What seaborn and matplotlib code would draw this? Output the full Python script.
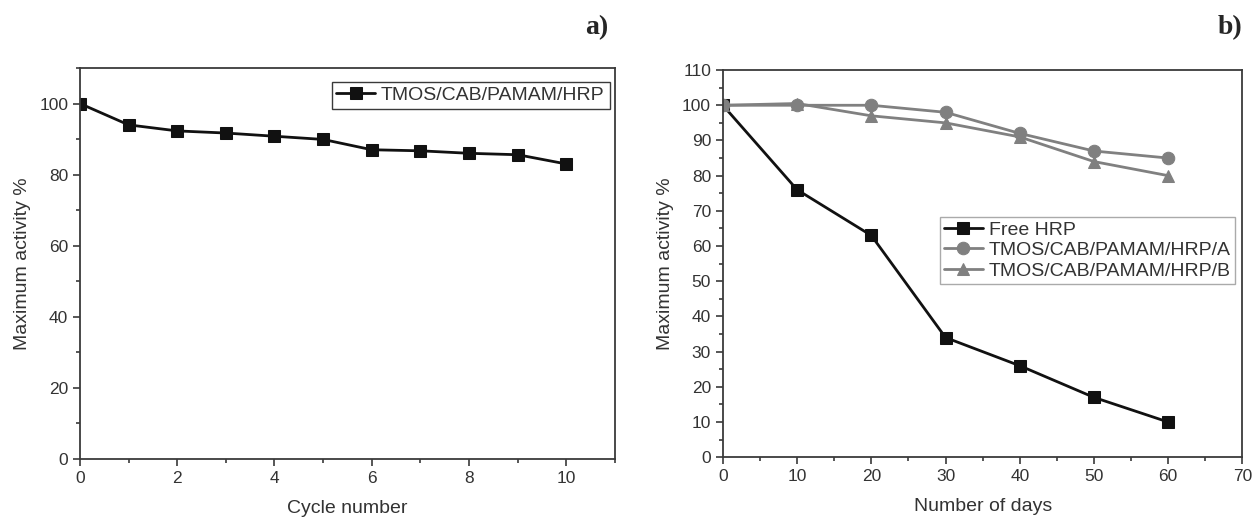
import matplotlib
matplotlib.use("Agg")
import matplotlib.pyplot as plt
import seaborn as sns
import pandas as pd
from matplotlib.ticker import MultipleLocator

# panel a) reusability
cycles = [0, 1, 2, 3, 4, 5, 6, 7, 8, 9, 10]
cycle_activity = [100, 94, 92.3, 91.7, 90.8, 89.9, 87, 86.7, 86, 85.6, 83]

# panel b) storage stability
days = [0, 10, 20, 30, 40, 50, 60]
free_hrp = [100, 76, 63, 34, 26, 17, 10]
hrp_a = [100, 100, 100, 98, 92, 87, 85]
hrp_b = [100, 100.5, 97, 95, 91, 84, 80]

sns.set_style("ticks")
plt.rcParams['font.family'] = ['Liberation Sans', 'DejaVu Sans']
axis_col = "#3a3a3a"
text_col = "#333333"
plt.rcParams.update({
    "axes.edgecolor": axis_col, "xtick.color": axis_col, "ytick.color": axis_col,
    "xtick.labelcolor": text_col, "ytick.labelcolor": text_col,
    "axes.labelcolor": text_col, "axes.linewidth": 1.3,
})

fig = plt.figure(figsize=(12.55, 5.19), dpi=100)
ax1 = fig.add_axes([0.0637, 0.1156, 0.4263, 0.7534])
ax2 = fig.add_axes([0.576, 0.119, 0.414, 0.746])

df1 = pd.DataFrame({"x": cycles, "y": cycle_activity})
sns.lineplot(data=df1, x="x", y="y", ax=ax1, color="#111111", lw=2, marker="s",
             markersize=9, markeredgecolor="#111111", label="TMOS/CAB/PAMAM/HRP")

df2 = pd.DataFrame({"x": days * 3, "y": free_hrp + hrp_a + hrp_b,
                    "s": ["Free HRP"] * 7 + ["TMOS/CAB/PAMAM/HRP/A"] * 7 + ["TMOS/CAB/PAMAM/HRP/B"] * 7})
styles = [("Free HRP", "s", "#111111"), ("TMOS/CAB/PAMAM/HRP/A", "o", "#808080"),
          ("TMOS/CAB/PAMAM/HRP/B", "^", "#808080")]
for name, mk, c in styles:
    sub = df2[df2["s"] == name]
    sns.lineplot(data=sub, x="x", y="y", ax=ax2, color=c, lw=2, marker=mk,
                 markersize=9, markeredgecolor=c, label=name)

for ax in (ax1, ax2):
    ax.tick_params(which="both", direction="out", top=False, right=False, labelsize=12.5)
    ax.tick_params(which="major", length=5, width=1.2)
    ax.tick_params(which="minor", length=3, width=1.2)
    ax.set_ylabel("Maximum activity %", fontsize=14, labelpad=6)

ax1.set_xlim(0, 11)
ax1.set_ylim(0, 110)
ax1.xaxis.set_major_locator(MultipleLocator(2))
ax1.xaxis.set_minor_locator(MultipleLocator(1))
ax1.yaxis.set_major_locator(MultipleLocator(20))
ax1.yaxis.set_minor_locator(MultipleLocator(10))
ax1.set_yticks([0, 20, 40, 60, 80, 100])
ax1.set_xlabel("Cycle number", fontsize=14, labelpad=10)

ax2.set_xlim(0, 70)
ax2.set_ylim(0, 110)
ax2.xaxis.set_major_locator(MultipleLocator(10))
ax2.xaxis.set_minor_locator(MultipleLocator(5))
ax2.yaxis.set_major_locator(MultipleLocator(10))
ax2.yaxis.set_minor_locator(MultipleLocator(5))
ax2.set_xlabel("Number of days", fontsize=14, labelpad=10)

leg1 = ax1.legend(loc="upper right", bbox_to_anchor=(0.99, 0.965), fontsize=14, fancybox=False,
                  edgecolor=axis_col, handlelength=2.0, handletextpad=0.3, borderpad=0.25,
                  borderaxespad=0.0, framealpha=1)
leg2 = ax2.legend(loc="upper right", bbox_to_anchor=(0.985, 0.62), fontsize=14, fancybox=False,
                  edgecolor="#aaaaaa", handlelength=2.0, handletextpad=0.3, borderpad=0.2,
                  labelspacing=0.15, borderaxespad=0.0, framealpha=1)
for leg in (leg1, leg2):
    leg.get_frame().set_linewidth(1.0)
    for t in leg.get_texts():
        t.set_color(text_col)

fig.text(0.466, 0.935, "a)", fontsize=20, fontweight="bold", family=["Liberation Serif", "DejaVu Serif"])
fig.text(0.970, 0.935, "b)", fontsize=20, fontweight="bold", family=["Liberation Serif", "DejaVu Serif"])

fig.savefig("out.png", dpi=100)
